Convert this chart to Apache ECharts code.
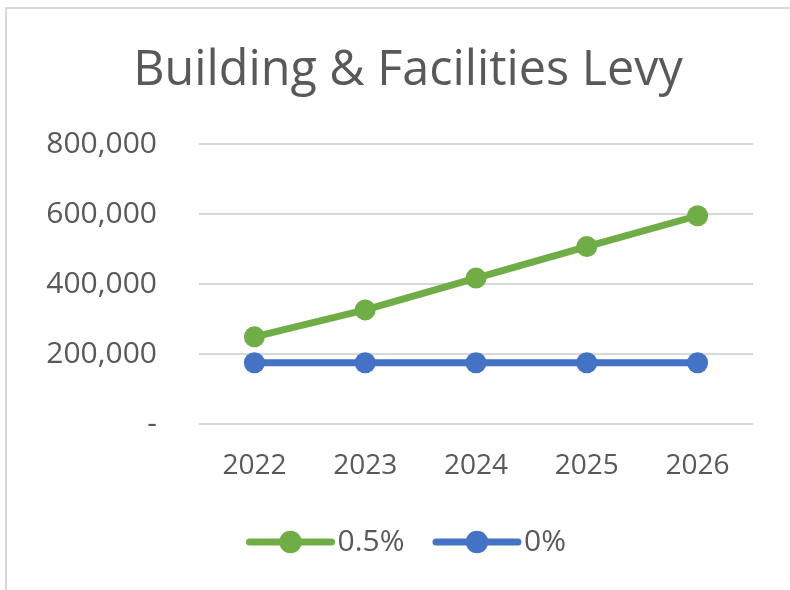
<!DOCTYPE html>
<html>
<head>
<meta charset="utf-8">
<script src="https://cdn.jsdelivr.net/npm/echarts@6/dist/echarts.min.js"></script>
<style>
  html, body { margin: 0; padding: 0; background: #fff; }
  .frame {
    position: absolute; left: 5px; top: 7px; width: 800px; height: 600px;
    border: 2px solid #d9d9d9; box-sizing: border-box;
  }
  #chart { position: absolute; left: 0; top: 0; width: 790px; height: 590px; }
</style>
</head>
<body>
<div class="frame"></div>
<div id="chart"></div>
<script>
// chart data
const years = ['2022', '2023', '2024', '2025', '2026'];
const levyHalfPct = [249000, 326000, 417000, 507000, 595000];
const levyZeroPct = [175000, 175000, 175000, 175000, 175000];
const yTicks = [0, 200000, 400000, 600000, 800000];

const font = '"Open Sans", "Noto Sans", sans-serif';
const textColor = '#595959';

let myChart = echarts.init(document.getElementById('chart'));
let option = {
  animation: false,
  title: {
    text: 'Building & Facilities Levy',
    left: 403,
    top: 42,
    textAlign: 'center',
    textStyle: { fontFamily: font, fontSize: 48.5, fontWeight: 'normal', color: textColor }
  },
  legend: {
    top: 522,
    left: 241,
    itemWidth: 82,
    itemHeight: 28,
    itemGap: 28,
    lineStyle: { width: 7, cap: 'round' },
    textStyle: { fontFamily: font, fontSize: 30, color: textColor, padding: [0, 0, 0, 1] },
    data: ['0.5%', '0%']
  },
  grid: { left: 199, right: 37, top: 144, bottom: 166 },
  xAxis: {
    type: 'category',
    data: years,
    boundaryGap: true,
    axisLine: { show: false },
    axisTick: { show: false },
    axisLabel: { fontFamily: font, fontSize: 28, color: textColor, margin: 28 }
  },
  yAxis: {
    type: 'value',
    min: yTicks[0],
    max: yTicks[yTicks.length - 1],
    interval: 200000,
    axisLine: { show: false },
    axisTick: { show: false },
    splitLine: { lineStyle: { color: '#d9d9d9', width: 2 } },
    axisLabel: {
      fontFamily: font, fontSize: 30, color: textColor, margin: 42,
      formatter: v => v === 0 ? '-' : v.toLocaleString('en-US')
    }
  },
  series: [
    {
      name: '0.5%',
      type: 'line',
      data: levyHalfPct,
      symbol: 'circle',
      symbolSize: 21,
      lineStyle: { width: 7, color: '#70ad47' },
      itemStyle: { color: '#70ad47' }
    },
    {
      name: '0%',
      type: 'line',
      data: levyZeroPct,
      symbol: 'circle',
      symbolSize: 21,
      lineStyle: { width: 7, color: '#4472c4' },
      itemStyle: { color: '#4472c4' }
    }
  ]
};
myChart.setOption(option);
</script>
</body>
</html>
